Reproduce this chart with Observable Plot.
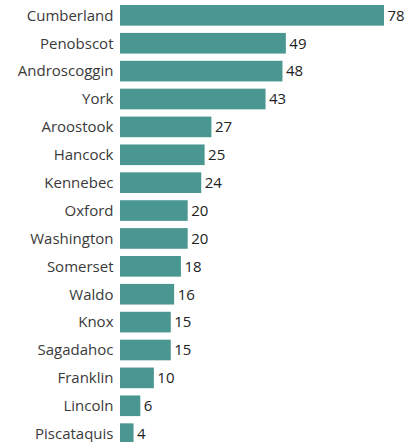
<!DOCTYPE html>
<html>
<head>
<meta charset="utf-8">
<script src="https://cdn.jsdelivr.net/npm/d3@7"></script>
<script src="https://cdn.jsdelivr.net/npm/@observablehq/plot@0.6"></script>
<style>
  html, body { margin: 0; padding: 0; background: #fff; }
  #chart { width: 405px; height: 442px; overflow: hidden; }
</style>
</head>
<body>
<div id="chart"></div>
<script>
const counties = ["Cumberland","Penobscot","Androscoggin","York","Aroostook","Hancock","Kennebec","Oxford","Washington","Somerset","Waldo","Knox","Sagadahoc","Franklin","Lincoln","Piscataquis"];
const counts = [78,49,48,43,27,25,24,20,20,18,16,15,15,10,6,4];

const data = counties.map((c, i) => ({county: c, value: counts[i]}));

const chart = Plot.plot({
  width: 405,
  height: 449,
  marginTop: 0,
  marginBottom: 0,
  marginLeft: 120,
  marginRight: 21,
  style: {fontFamily: "'Open Sans', sans-serif", fontSize: "15px", color: "#3a3a3a", background: "#fff"},
  x: {domain: [0, 78], axis: null},
  y: {domain: counties, paddingInner: 0.26, paddingOuter: 0.18, round: false, label: null, tickSize: 0, tickPadding: 7},
  marks: [
    Plot.barX(data, {x: "value", y: "county", fill: "#4a9690"}),
    Plot.text(data, {x: "value", y: "county", text: d => String(d.value), textAnchor: "start", dx: 3, fill: "#222", fontSize: 15})
  ]
});
document.getElementById("chart").appendChild(chart);
</script>
</body>
</html>
